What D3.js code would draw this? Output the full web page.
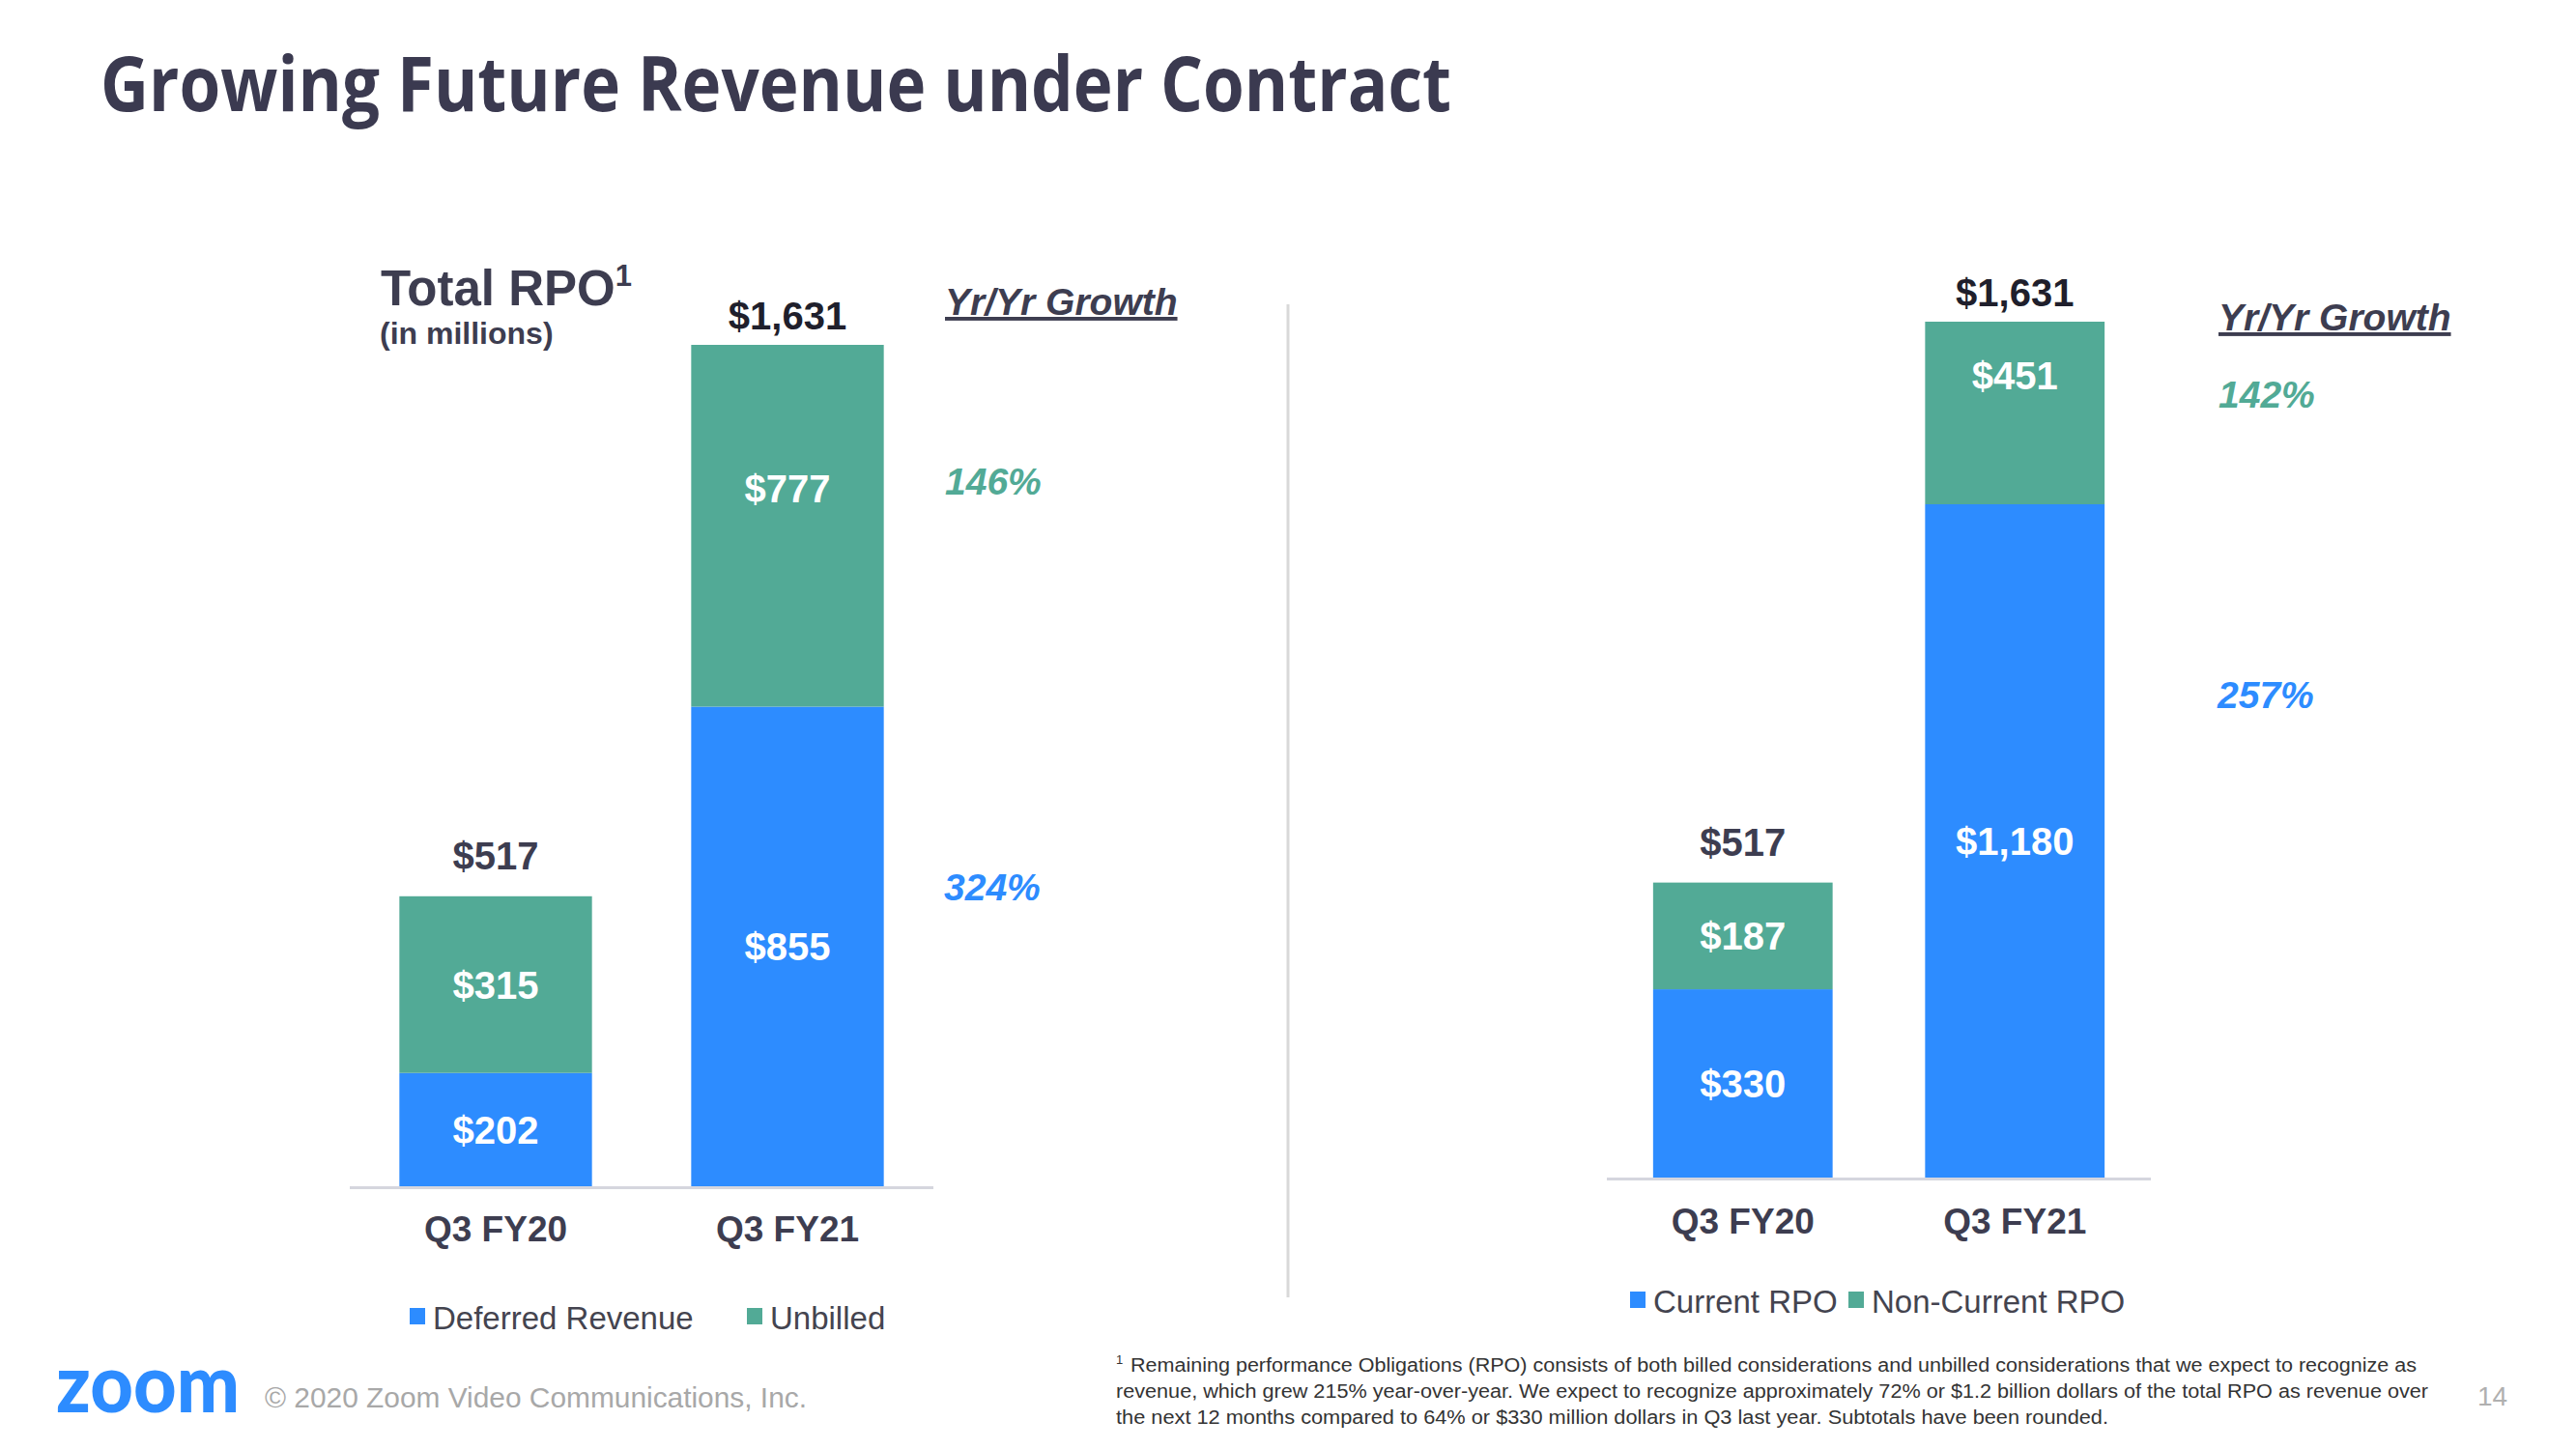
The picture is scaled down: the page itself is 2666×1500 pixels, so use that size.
<!DOCTYPE html>
<html>
<head>
<meta charset="utf-8">
<script src="https://cdn.jsdelivr.net/npm/d3@7"></script>
<style>
html,body{margin:0;padding:0;background:#fff;}
svg{display:block;}
</style>
</head>
<body>
<svg id="chart" width="2666" height="1500"></svg>
<script>
// ---------- data ----------
const categories = ["Q3 FY20", "Q3 FY21"];
const deferredRevenue = [202, 855];
const unbilled = [315, 777];
const currentRPO = [330, 1180];
const nonCurrentRPO = [187, 451];
const totalRPO = [517, 1631];
const leftSeriesNames = ["Deferred Revenue", "Unbilled"];
const rightSeriesNames = ["Current RPO", "Non-Current RPO"];
const leftGrowth = ["146%", "324%"];   // Unbilled, Deferred Revenue
const rightGrowth = ["142%", "257%"];  // Non-Current RPO, Current RPO
const axisMax = 1500;

const BLUE = "#2D8CFF", GREEN = "#52AA96", DARK = "#3d3d50";
const FONT = "'Liberation Sans', Arial, sans-serif";

const svg = d3.select("#chart");

// Title
svg.append("text").attr("x", 104).attr("y", 115)
  .attr("font-family", "'Open Sans', sans-serif").attr("font-weight", 700)
  .attr("font-size", 78).attr("fill", "#3b3a50")
  .attr("textLength", 1398).attr("lengthAdjust", "spacingAndGlyphs")
  .text("Growing Future Revenue under Contract");

function drawChart(cfg) {
  const g = svg.append("g");
  const x = d3.scaleBand().domain(categories).range(cfg.xRange)
    .paddingInner(0.34).paddingOuter(0.17);
  const y = d3.scaleLinear().domain([0, axisMax]).range(cfg.yRange);
  const yc = y.copy().clamp(true);

  const rows = categories.map((c, i) => ({cat: c, a: cfg.a[i], b: cfg.b[i]}));
  const stack = d3.stack().keys(["a", "b"])(rows);
  const colors = [BLUE, GREEN];

  stack.forEach((layer, li) => {
    g.selectAll(null).data(layer).enter().append("rect")
      .attr("x", d => x(d.data.cat))
      .attr("width", x.bandwidth())
      .attr("y", d => yc(d[1]))
      .attr("height", d => yc(d[0]) - yc(d[1]))
      .attr("fill", colors[li]);
    g.selectAll(null).data(layer).enter().append("text")
      .attr("x", d => x(d.data.cat) + x.bandwidth() / 2)
      .attr("y", d => (y(d[0]) + y(d[1])) / 2)
      .attr("dy", "0.36em")
      .attr("text-anchor", "middle")
      .attr("font-family", FONT).attr("font-weight", 700).attr("font-size", 40)
      .attr("fill", "#fff")
      .text(d => "$" + d3.format(",")(d[1] - d[0]));
  });

  // totals
  g.selectAll(null).data(rows).enter().append("text")
    .attr("x", d => x(d.cat) + x.bandwidth() / 2)
    .attr("y", (d, i) => yc(totalRPO[i]) - (totalRPO[i] > axisMax ? 16 : 28))
    .attr("text-anchor", "middle")
    .attr("font-family", FONT).attr("font-weight", 700).attr("font-size", 40)
    .attr("fill", (d, i) => totalRPO[i] > axisMax ? "#1f1f2c" : DARK)
    .text((d, i) => "$" + d3.format(",")(totalRPO[i]));

  // baseline
  g.append("line").attr("x1", cfg.xRange[0]).attr("x2", cfg.xRange[1])
    .attr("y1", cfg.yRange[0] + 1.5).attr("y2", cfg.yRange[0] + 1.5)
    .attr("stroke", "#d5d6de").attr("stroke-width", 3);

  // category axis labels
  const ax = d3.axisBottom(x).tickSize(0).tickPadding(0);
  const axG = g.append("g").attr("transform", `translate(0,${cfg.yRange[0] + cfg.catDy})`).call(ax);
  axG.select(".domain").remove();
  axG.selectAll("text").attr("font-family", FONT).attr("font-weight", 700)
    .attr("font-size", 37).attr("fill", DARK).attr("dy", 0);

  // Yr/Yr Growth
  g.append("text").attr("x", cfg.growthX).attr("y", cfg.growthTitleY)
    .attr("font-family", FONT).attr("font-weight", 700).attr("font-style", "italic")
    .attr("font-size", 39).attr("fill", DARK).attr("text-decoration", "underline")
    .text("Yr/Yr Growth");
  g.append("text").attr("x", cfg.growthX).attr("y", cfg.growthY[0])
    .attr("font-family", FONT).attr("font-weight", 700).attr("font-style", "italic")
    .attr("font-size", 39).attr("fill", GREEN).text(cfg.growth[0]);
  g.append("text").attr("x", cfg.growthX - 1).attr("y", cfg.growthY[1])
    .attr("font-family", FONT).attr("font-weight", 700).attr("font-style", "italic")
    .attr("font-size", 39).attr("fill", BLUE).text(cfg.growth[1]);

  // legend
  cfg.legend.forEach((item, i) => {
    g.append("rect").attr("x", item.x).attr("y", cfg.legendY - 22)
      .attr("width", 16).attr("height", 17).attr("fill", colors[i]);
    g.append("text").attr("x", item.x + 24).attr("y", cfg.legendY)
      .attr("font-family", FONT).attr("font-size", 33).attr("fill", "#44444f")
      .text(item.name);
  });
}

drawChart({
  xRange: [362, 966], yRange: [1228, 357],
  a: deferredRevenue, b: unbilled,
  catDy: 57,
  growthX: 978, growthTitleY: 326, growth: leftGrowth, growthY: [512, 932],
  legendY: 1376,
  legend: [{x: 424, name: leftSeriesNames[0]}, {x: 773, name: leftSeriesNames[1]}]
});

drawChart({
  xRange: [1663, 2226], yRange: [1219, 333],
  a: currentRPO, b: nonCurrentRPO,
  catDy: 58,
  growthX: 2296, growthTitleY: 342, growth: rightGrowth, growthY: [422, 733],
  legendY: 1359,
  legend: [{x: 1687, name: rightSeriesNames[0]}, {x: 1913, name: rightSeriesNames[1]}]
});

// Total RPO heading
const tr = svg.append("text").attr("x", 394).attr("y", 316)
  .attr("font-family", FONT).attr("font-weight", 700).attr("font-size", 51).attr("fill", DARK);
tr.append("tspan").text("Total RPO");
tr.append("tspan").attr("font-size", 31).attr("dy", -20).text("1");
svg.append("text").attr("x", 393).attr("y", 356)
  .attr("font-family", FONT).attr("font-weight", 700).attr("font-size", 32).attr("fill", DARK)
  .text("(in millions)");

// divider
svg.append("line").attr("x1", 1333).attr("x2", 1333).attr("y1", 315).attr("y2", 1343)
  .attr("stroke", "#d9d9d9").attr("stroke-width", 3);

// footer
svg.append("text").attr("x", 58).attr("y", 1462)
  .attr("font-family", "Lato, sans-serif").attr("font-weight", 900).attr("font-size", 84)
  .attr("fill", BLUE).attr("textLength", 190).attr("lengthAdjust", "spacingAndGlyphs")
  .text("zoom");
svg.append("text").attr("x", 274).attr("y", 1457)
  .attr("font-family", FONT).attr("font-size", 29).attr("fill", "#a8a8a8")
  .attr("textLength", 561).attr("lengthAdjust", "spacingAndGlyphs")
  .text("© 2020 Zoom Video Communications, Inc.");

const footLines = [
  "Remaining performance Obligations (RPO) consists of both billed considerations and unbilled considerations that we expect to recognize as",
  "revenue, which grew 215% year-over-year. We expect to recognize approximately 72% or $1.2 billion dollars of the total RPO as revenue over",
  "the next 12 months compared to 64% or $330 million dollars in Q3 last year. Subtotals have been rounded."
];
const footX = [1170, 1155, 1155], footW = [1331, 1358, 1027], footY = [1420, 1447, 1474];
svg.append("text").attr("x", 1155).attr("y", 1412)
  .attr("font-family", FONT).attr("font-size", 13).attr("fill", "#333").text("1");
footLines.forEach((t, i) => {
  svg.append("text").attr("x", footX[i]).attr("y", footY[i])
    .attr("font-family", FONT).attr("font-size", 20).attr("fill", "#333")
    .attr("textLength", footW[i]).attr("lengthAdjust", "spacingAndGlyphs")
    .text(t);
});
svg.append("text").attr("x", 2564).attr("y", 1455)
  .attr("font-family", FONT).attr("font-size", 28).attr("fill", "#b0b0b0").text("14");
</script>
</body>
</html>
